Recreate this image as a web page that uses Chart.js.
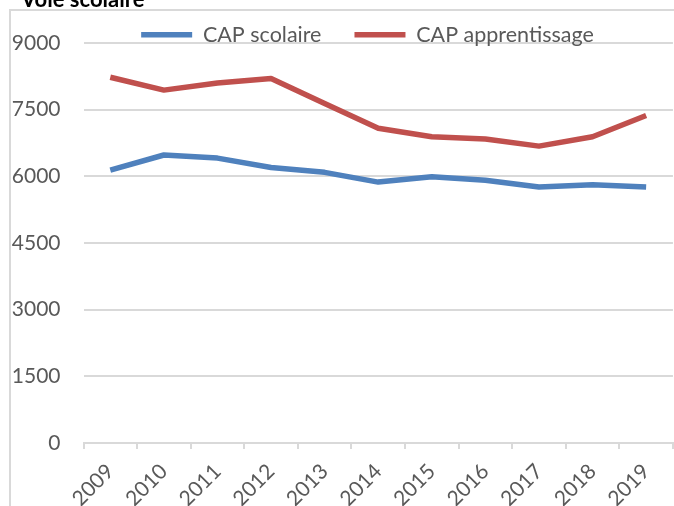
<!DOCTYPE html>
<html><head><meta charset="utf-8">
<script src="https://cdn.jsdelivr.net/npm/chart.js@4.4.1/dist/chart.umd.min.js"></script>
<style>
html,body{margin:0;padding:0;background:#fff;overflow:hidden;}
#wrap{position:relative;width:674px;height:506px;overflow:hidden;}
#frame{position:absolute;left:8.5px;top:8.5px;width:700px;height:520px;border-left:2px solid #d9d9d9;border-top:2px solid #d9d9d9;}
#title{position:absolute;left:21px;top:-15px;font:bold 22px Lato, sans-serif;color:#000;white-space:nowrap;}
canvas{position:absolute;left:0;top:0;}
</style></head>
<body><div id="wrap"><div id="frame"></div><canvas id="c" width="674" height="506"></canvas><div id="title">Voie scolaire</div></div>
<script>
const years = ['2009','2010','2011','2012','2013','2014','2015','2016','2017','2018','2019'];
const capScolaire = [6140, 6480, 6410, 6200, 6090, 5870, 5990, 5910, 5760, 5810, 5760];
const capApprentissage = [8230, 7940, 8100, 8200, 7640, 7080, 6890, 6840, 6680, 6890, 7370];
const yMin = 0, yMax = 9000, yStep = 1500;

const grey = '#595959';
const gridGrey = '#d9d9d9';

const legendShift = {
  id: 'legendShift',
  afterLayout(chart) {
    const lg = chart.legend;
    if (lg) {
      lg.left = 62;
      lg.bottom = lg.top + 90;
      lg.height = 90;
    }
  }
};

new Chart(document.getElementById('c'), {
  type: 'line',
  data: {
    labels: years,
    datasets: [
      { label: 'CAP scolaire', data: capScolaire, borderColor: '#4F81BD', backgroundColor: '#4F81BD', borderWidth: 5.5, pointRadius: 0, tension: 0, borderCapStyle: 'butt', borderJoinStyle: 'round' },
      { label: 'CAP apprentissage', data: capApprentissage, borderColor: '#C0504D', backgroundColor: '#C0504D', borderWidth: 5.5, pointRadius: 0, tension: 0, borderCapStyle: 'butt', borderJoinStyle: 'round' }
    ]
  },
  plugins: [legendShift],
  options: {
    responsive: false,
    animation: false,
    events: [],
    layout: { padding: { top: -9, left: 0, right: 1, bottom: 0 } },
    plugins: {
      tooltip: { enabled: false },
      legend: {
        position: 'top',
        maxHeight: 52,
        labels: {
          usePointStyle: true,
          pointStyle: 'line',
          pointStyleWidth: 51,
          padding: 33,
          color: grey,
          font: { family: 'Lato', size: 21.5 }
        }
      }
    },
    scales: {
      x: {
        offset: true,
        grid: { display: true, offset: true, drawOnChartArea: false, drawTicks: true, tickLength: 6, color: gridGrey, lineWidth: 2 },
        border: { display: true, color: gridGrey, width: 2 },
        ticks: { color: grey, font: { family: 'Lato', size: 21 }, maxRotation: 45, minRotation: 45, padding: 10, autoSkip: false },
        afterFit: (s) => { s.height = 63; }
      },
      y: {
        min: yMin, max: yMax,
        grid: { color: gridGrey, lineWidth: 2, drawTicks: false },
        border: { display: false },
        ticks: { stepSize: yStep, color: grey, padding: 23, font: { family: 'Lato', size: 21 }, callback: (v) => String(v) },
        afterFit: (s) => { s.width = 83.5; }
      }
    }
  }
});
</script>
</body></html>
